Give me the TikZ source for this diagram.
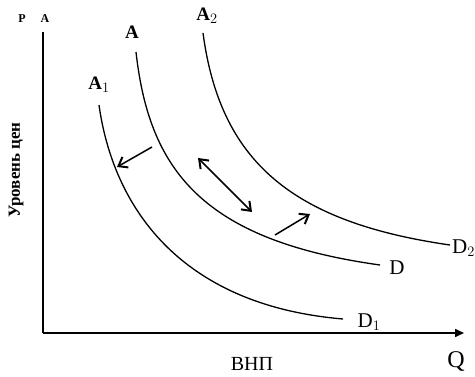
\documentclass[tikz,border=0pt]{standalone}
\usepackage{fontspec}
\setmainfont{Liberation Serif}
\usetikzlibrary{arrows.meta}
\tikzset{
	curva/.style={line width=1.3pt},
	punta/.tip={Straight Barb[length=8pt,width=12pt,line width=2pt]},
	flecha/.style={line width=1.5pt, -punta},
	eje/.style={line width=1.6pt},
	etiq/.style={font=\fontsize{19}{19}\selectfont\bfseries, inner sep=0pt},
	etiqd/.style={font=\fontsize{21}{21}\selectfont, inner sep=0pt}
}
\begin{document}
\begin{tikzpicture}[x=1pt,y=-1pt]
\useasboundingbox (0,0) rectangle (475,377);

% Ejes
\coordinate (O) at (43,333);
\coordinate (Ptop) at (43,32);
\coordinate (Qend) at (464,333);
\draw[eje] (Ptop) -- (O);
\draw[eje, -{Triangle[length=9pt,width=8pt]}] (O) -- (Qend);

\node[font=\fontsize{12}{12}\selectfont\bfseries, inner sep=0pt] (P) at (22,19) {P};
\node[font=\fontsize{12}{12}\selectfont\bfseries, inner sep=0pt] (PA) at (45,19) {A};
\node[font=\fontsize{24}{24}\selectfont, inner sep=0pt] (Q) at (456,362) {Q};
\node[font=\fontsize{20}{20}\selectfont, inner sep=0pt] (vnp) at (252,364) {ВНП};
\node[font=\fontsize{17}{17}\selectfont\bfseries, rotate=90, inner sep=0pt] (nivel) at (16,170) {Уровень цен};

% Curvas
\draw[curva] (99,105) .. controls (113,205) and (178,305) .. (343,319);
\draw[curva] (136,52) .. controls (149,168) and (200,240) .. (380,265);
\draw[curva] (203,33) .. controls (220,160) and (290,222) .. (450,245);

\node[etiq] (A1) at (99,85) {A$_{\scriptstyle 1}$};
\node[etiq] (A) at (132,32) {A};
\node[etiq] (A2) at (207,16) {A$_{\scriptstyle 2}$};
\node[etiqd] (D1) at (369,322) {D$_{\scriptstyle 1}$};
\node[etiqd] (D) at (397,268) {D};
\node[etiqd, anchor=east] (D2) at (475,248) {D$_{\scriptstyle 2}$};

% Desplazamientos
\coordinate (izq1) at (152,147);
\coordinate (izq2) at (117,167);
\coordinate (med1) at (198,158);
\coordinate (med2) at (252,212);
\coordinate (der1) at (275,235);
\coordinate (der2) at (310,214);
\draw[flecha] (izq1) -- (izq2);
\draw[flecha, punta-punta] (med1) -- (med2);
\draw[flecha] (der1) -- (der2);
\end{tikzpicture}
\end{document}
